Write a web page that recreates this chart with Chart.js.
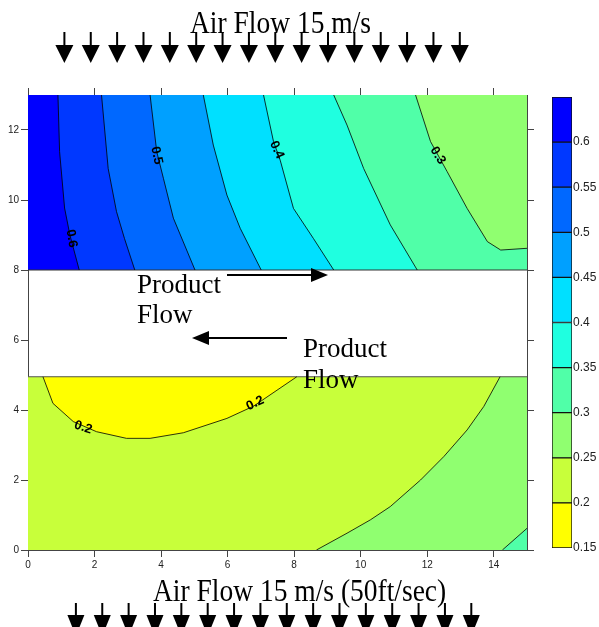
<!DOCTYPE html>
<html>
<head>
<meta charset="utf-8">
<script src="https://cdn.jsdelivr.net/npm/chart.js@4.4.0/dist/chart.umd.min.js"></script>
<style>
  html, body { margin: 0; padding: 0; background: #fff; }
  #wrap { position: relative; width: 599px; height: 627px; overflow: hidden; }
  #main { position: absolute; left: 0; top: 0; }
  #bar { position: absolute; left: 540px; top: 85px; }
  #deco { position: absolute; left: 0; top: 0; pointer-events: none; }
  #deco text { font-family: "Liberation Serif", "Times New Roman", serif; fill: #000; }
</style>
</head>
<body>
<div id="wrap">
  <canvas id="main" width="599" height="627"></canvas>
  <canvas id="bar" width="59" height="475"></canvas>
  <svg id="deco" width="599" height="627"></svg>
</div>
<script>
const xTicks = [0, 2, 4, 6, 8, 10, 12, 14];
const yTicks = [0, 2, 4, 6, 8, 10, 12];
const levels = [0.15, 0.2, 0.25, 0.3, 0.35, 0.4, 0.45, 0.5, 0.55, 0.6, 0.65];
const bandColors = ["#ffff00", "#c8ff3a", "#90ff70", "#50ffa8", "#1fffe0",
                    "#00e0ff", "#00a0ff", "#0068ff", "#0038ff", "#0000ff"];

// duct limits
const upperDuct = [8, 13];
const lowerDuct = [0, 4.95];
const xMax = 15;

// upper duct contours, traced top -> bottom
const c30 = [[11.65, 13], [12.1, 11.67], [12.6, 10.81], [13.2, 9.76], [13.81, 8.81], [14.21, 8.57], [15, 8.62]];
const c35 = [[9.19, 13], [9.59, 12.14], [10.09, 10.9], [10.89, 9.29], [11.7, 8]];
const c40 = [[7.08, 13], [7.38, 11.67], [7.58, 11.14], [7.98, 9.76], [8.58, 8.9], [9.19, 8]];
const c45 = [[5.27, 13], [5.57, 11.57], [5.98, 10.14], [6.38, 9.19], [7.01, 8]];
const c50 = [[3.67, 13], [3.87, 11.38], [4.07, 10.62], [4.37, 9.48], [5.02, 8]];
const c55 = [[2.21, 13], [2.41, 10.9], [2.66, 9.67], [2.9, 8.9], [3.21, 8]];
const c60 = [[0.9, 13], [0.95, 11.38], [1.1, 9.77], [1.26, 9.0], [1.54, 8]];

// lower duct contours
const c20 = [[0.45, 4.95], [0.75, 4.19], [1.36, 3.67], [2.06, 3.38], [2.96, 3.19], [3.67, 3.19],
             [4.67, 3.35], [5.98, 3.76], [6.78, 4.11], [8.08, 4.95]];
const c25b = [[8.67, 0], [9.59, 0.48], [10.29, 0.86], [10.89, 1.24], [11.8, 2], [12.5, 2.67],
              [13.2, 3.43], [13.7, 4.1], [14.19, 4.95]];
const c30b = [[14.26, 0], [15, 0.62]];

const contourLabels = [
  { text: "0.6", x: 1.31, y: 8.9, rot: 80 },
  { text: "0.5", x: 3.87, y: 11.27, rot: 78 },
  { text: "0.4", x: 7.48, y: 11.43, rot: 65 },
  { text: "0.3", x: 12.32, y: 11.27, rot: 58 },
  { text: "0.2", x: 1.66, y: 3.5, rot: 18 },
  { text: "0.2", x: 6.83, y: 4.19, rot: -25 },
];

const tickFont = "'Liberation Sans', Arial, sans-serif";

function pts(arr) {
  return arr.map(([x, y]) => ({ x: x, y: y }));
}

function area(arr, color, order) {
  const closed = arr.concat([arr[0]]);
  return {
    data: pts(closed),
    showLine: true,
    fill: "shape",
    backgroundColor: color,
    borderColor: "transparent",
    borderWidth: 1,
    pointRadius: 0,
    tension: 0,
    order: order,
  };
}

function contour(arr, color, width) {
  return {
    data: pts(arr),
    showLine: true,
    fill: false,
    borderColor: color || "#000",
    borderWidth: width || 0.8,
    pointRadius: 0,
    tension: 0,
    order: 0,
  };
}

const [u0, u1] = upperDuct;
const [l0, l1] = lowerDuct;
const datasets = [
  // upper duct bands, painted low to high
  area([[0, u0], [xMax, u0], [xMax, u1], [0, u1]], bandColors[2], 9),
  area(c30.concat([[xMax, u0], [0, u0], [0, u1]]), bandColors[3], 8),
  area(c35.concat([[0, u0], [0, u1]]), bandColors[4], 7),
  area(c40.concat([[0, u0], [0, u1]]), bandColors[5], 6),
  area(c45.concat([[0, u0], [0, u1]]), bandColors[6], 5),
  area(c50.concat([[0, u0], [0, u1]]), bandColors[7], 4),
  area(c55.concat([[0, u0], [0, u1]]), bandColors[8], 3),
  area(c60.concat([[0, u0], [0, u1]]), bandColors[9], 2),
  // lower duct bands
  area([[0, l0], [xMax, l0], [xMax, l1], [0, l1]], bandColors[1], 9),
  area(c20, bandColors[0], 3),
  area(c25b.concat([[xMax, l1], [xMax, l0]]), bandColors[2], 3),
  area(c30b.concat([[xMax, l0]]), bandColors[3], 2),
  // contour lines
  contour(c30), contour(c35), contour(c40), contour(c45), contour(c50), contour(c55), contour(c60),
  contour(c20), contour(c25b), contour(c30b),
  contour([[0, u0], [xMax, u0]], "#333", 1),
  contour([[0, l1], [xMax, l1]], "#555", 1),
];

const labelPlugin = {
  id: "contourLabels",
  afterDatasetsDraw(chart) {
    const ctx = chart.ctx;
    const xs = chart.scales.x, ys = chart.scales.y;
    ctx.save();
    ctx.font = "bold 13px 'Liberation Sans', Arial, sans-serif";
    ctx.fillStyle = "#000";
    ctx.textAlign = "center";
    ctx.textBaseline = "middle";
    contourLabels.forEach((l) => {
      ctx.save();
      ctx.translate(xs.getPixelForValue(l.x), ys.getPixelForValue(l.y));
      ctx.rotate((l.rot * Math.PI) / 180);
      ctx.fillText(l.text, 0, 0);
      ctx.restore();
    });
    ctx.restore();
  },
};

function axis(position, ticks, max, show, size) {
  const horiz = position === "top" || position === "bottom";
  return {
    type: "linear",
    position: position,
    min: 0,
    max: max,
    z: 1,
    afterBuildTicks: (s) => { s.ticks = ticks.map((v) => ({ value: v })); },
    afterFit: (s) => { if (horiz) s.height = size; else s.width = size; },
    grid: { drawOnChartArea: false, tickLength: 7, color: "#444" },
    border: { color: "#444", width: 1 },
    ticks: { display: show, font: { family: tickFont, size: 10 }, color: "#222", padding: 2 },
  };
}

new Chart(document.getElementById("main"), {
  type: "scatter",
  data: { datasets: datasets },
  options: {
    responsive: false,
    animation: false,
    layout: { padding: { left: 0, top: 87, right: 64, bottom: 55 } },
    plugins: { legend: { display: false }, tooltip: { enabled: false } },
    scales: {
      x: axis("bottom", xTicks, xMax, true, 22),
      x2: axis("top", xTicks, xMax, false, 8),
      y: axis("left", yTicks, 13, true, 28),
      y2: axis("right", yTicks, 13, false, 8),
    },
  },
  plugins: [labelPlugin],
});

// colour bar
new Chart(document.getElementById("bar"), {
  type: "bar",
  data: {
    labels: [""],
    datasets: bandColors.map((c, i) => ({
      data: [[levels[i], levels[i + 1]]],
      backgroundColor: c,
      borderColor: "#111",
      borderWidth: 1,
      borderSkipped: false,
      barPercentage: 1,
      categoryPercentage: 1,
      grouped: false,
    })),
  },
  options: {
    responsive: false,
    animation: false,
    layout: { padding: { left: 12, top: 12, bottom: 12, right: 0 } },
    plugins: { legend: { display: false }, tooltip: { enabled: false } },
    scales: {
      x: { display: false },
      y: {
        position: "right",
        min: levels[0],
        max: levels[levels.length - 1],
        afterBuildTicks: (s) => { s.ticks = levels.slice(0, -1).map((v) => ({ value: v })); },
        afterFit: (s) => { s.width = 27; },
        grid: { display: false, drawTicks: false, tickLength: 0 },
        border: { display: false },
        ticks: {
          padding: 1,
          font: { family: tickFont, size: 12 },
          color: "#222",
          callback: (v) => String(+v.toFixed(2)),
        },
      },
    },
  },
});

// decorations: titles, air-flow arrows, product-flow notes
const svg = document.getElementById("deco");
const NS = "http://www.w3.org/2000/svg";
function el(tag, attrs, text) {
  const e = document.createElementNS(NS, tag);
  for (const k in attrs) e.setAttribute(k, attrs[k]);
  if (text) e.textContent = text;
  svg.appendChild(e);
  return e;
}
function downArrow(x, y0, y1, y2, hw) {
  el("rect", { x: x - 1, y: y0, width: 2, height: y1 - y0, fill: "#000" });
  el("polygon", { points: `${x - hw},${y1} ${x + hw},${y1} ${x},${y2}`, fill: "#000" });
}
for (let i = 0; i < 16; i++) {
  downArrow(64.4 + i * 26.36, 32, 45, 63, 9);
  downArrow(75.9 + i * 26.36, 603, 615, 636, 8.5);
}
el("text", { transform: "translate(190,33) scale(1,1.15)", "font-size": 27.5 }, "Air Flow 15 m/s");
el("text", { transform: "translate(153,601) scale(1,1.15)", "font-size": 27.5 }, "Air Flow 15 m/s (50ft/sec)");

el("text", { x: 137, y: 293, "font-size": 27 }, "Product");
el("text", { x: 137, y: 323, "font-size": 27 }, "Flow");
el("text", { x: 303, y: 357, "font-size": 27 }, "Product");
el("text", { x: 303, y: 388, "font-size": 27 }, "Flow");

el("rect", { x: 227, y: 274, width: 85, height: 2, fill: "#000" });
el("polygon", { points: "311,268 311,282 328,275", fill: "#000" });
el("rect", { x: 208, y: 337, width: 79, height: 2, fill: "#000" });
el("polygon", { points: "209,331 209,345 192,338", fill: "#000" });
</script>
</body>
</html>
